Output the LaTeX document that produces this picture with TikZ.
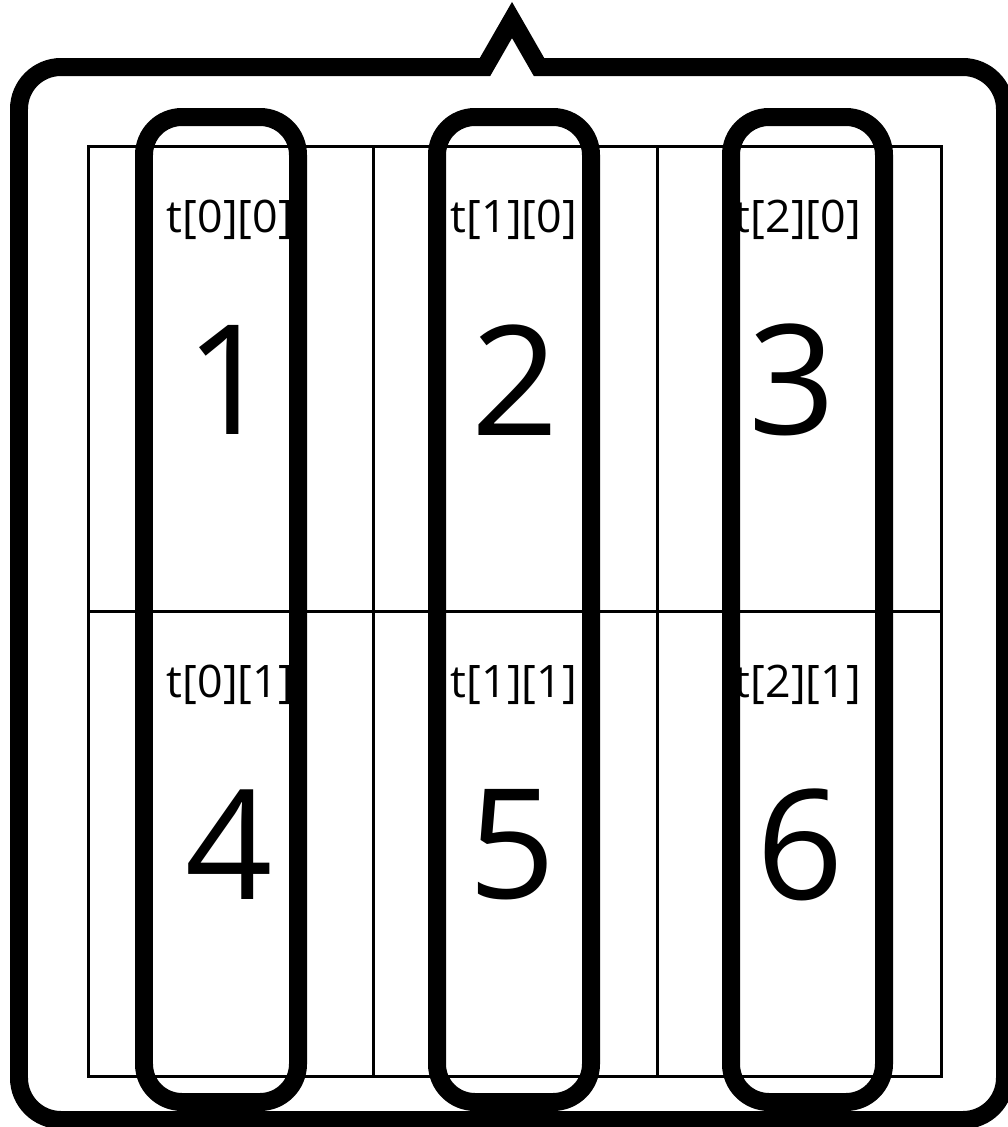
\documentclass[tikz,border=0pt]{standalone}
\usepackage{fontspec}
\setmainfont{Open Sans}
\usepackage{tikz}
\usetikzlibrary{positioning}

\begin{document}
\begin{tikzpicture}[x=0.02cm,y=-0.02cm,
  gridline/.style={line width=0.06cm},
  colbox/.style={line width=0.36cm,rounded corners=0.76cm},
  frame/.style={line width=0.36cm,line join=miter},
  lbl/.style={font=\fontsize{25.5}{28}\selectfont},
  val/.style={font=\fontsize{87}{90}\selectfont}]
  \useasboundingbox (0,0) rectangle (1008,1127);
  % Grid
  \draw[gridline] (88,146) rectangle (941,1076);
  \foreach \x in {373,657} \draw[gridline] (\x,146) -- (\x,1076);
  \draw[gridline] (88,611) -- (941,611);
  % Cell labels
  \foreach \i/\x in {0/230,1/514,2/798} {
    \node[lbl] (t\i0) at (\x,220) {t[\i][0]};
    \node[lbl] (t\i1) at (\x,685) {t[\i][1]};
  }
  % Values
  \foreach \n/\x/\y in {1/229/380,2/515/380,3/792/380,4/229/845,5/512/845,6/800/845}
    \node[val] (v\n) at (\x,\y) {\n};
  % Columns
  \foreach \l/\r in {144/298,437/591,731/884}
    \draw[colbox] (\l,117) rectangle (\r,1102);
  % Outer frame with pointer
  \draw[frame] (19,600) [rounded corners=0.84cm] -- (19,67) -- (300,67)
    [sharp corners] -- (485,67) -- (512,20) -- (539,67) -- (700,67)
    [rounded corners=0.84cm] -- (1005,67) -- (1005,1120) -- (19,1120) -- cycle;
\end{tikzpicture}
\end{document}
